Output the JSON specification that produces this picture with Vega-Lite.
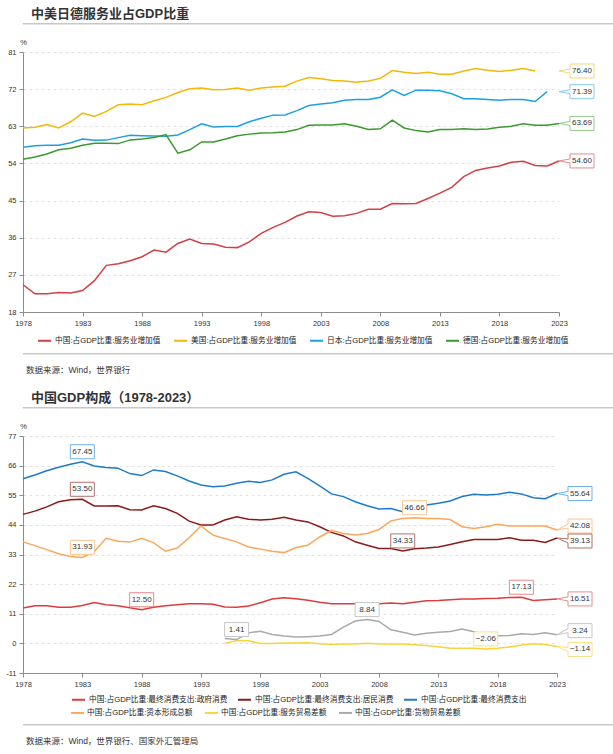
{
  "$schema": "https://vega.github.io/schema/vega-lite/v6.json",
  "padding": {"left": 5, "top": 8, "right": 5, "bottom": 2},
  "background": "white",
  "config": {
    "font": "Liberation Sans, Noto Sans CJK SC",
    "view": {"stroke": null},
    "axis": {
      "labelFontSize": 7.5,
      "labelColor": "#333",
      "domainColor": "#8c8c8c",
      "tickColor": "#8c8c8c",
      "tickSize": 4,
      "labelPadding": 3,
      "labelFlush": false,
      "gridColor": "#e2e2e2",
      "gridDash": [3, 3],
      "titleFontSize": 7.5,
      "titleFontWeight": "normal",
      "titleColor": "#333"
    },
    "axisX": {"grid": false},
    "legend": {
      "labelFontSize": 7.7,
      "labelColor": "#222",
      "symbolType": "stroke",
      "symbolStrokeWidth": 2,
      "symbolSize": 169,
      "labelOffset": 3,
      "labelLimit": 300
    },
    "title": {"anchor": "start", "color": "#333"}
  },
  "datasets": {
    "svc": [
      {"year": 1978, "中国": 24.6, "美国": 62.6, "日本": 57.9, "德国": 55.0},
      {"year": 1979, "中国": 22.4, "美国": 62.75, "日本": 58.3, "德国": 55.55},
      {"year": 1980, "中国": 22.4, "美国": 63.4, "日本": 58.4, "德国": 56.3},
      {"year": 1981, "中国": 22.7, "美国": 62.6, "日本": 58.4, "德国": 57.3},
      {"year": 1982, "中国": 22.6, "美国": 64.1, "日本": 59.0, "德国": 57.7},
      {"year": 1983, "中国": 23.2, "美国": 66.2, "日本": 59.9, "德国": 58.4},
      {"year": 1984, "中国": 25.6, "美国": 65.4, "日本": 59.6, "德国": 58.9},
      {"year": 1985, "中国": 29.3, "美国": 66.6, "日本": 59.65, "德国": 58.9},
      {"year": 1986, "中国": 29.7, "美国": 68.2, "日本": 60.25, "德国": 58.8},
      {"year": 1987, "中国": 30.4, "美国": 68.4, "日本": 60.8, "德国": 59.7},
      {"year": 1988, "中国": 31.4, "美国": 68.2, "日本": 60.7, "德国": 59.9},
      {"year": 1989, "中国": 33.0, "美国": 69.2, "日本": 60.65, "德国": 60.3},
      {"year": 1990, "中国": 32.5, "美国": 70.0, "日本": 60.6, "德国": 61.0},
      {"year": 1991, "中国": 34.6, "美国": 71.2, "日本": 60.9, "德国": 56.5},
      {"year": 1992, "中国": 35.65, "美国": 72.1, "日本": 62.2, "德国": 57.3},
      {"year": 1993, "中国": 34.6, "美国": 72.3, "日本": 63.6, "德国": 59.2},
      {"year": 1994, "中国": 34.45, "美国": 71.85, "日本": 62.85, "德国": 59.2},
      {"year": 1995, "中国": 33.7, "美国": 71.9, "日本": 62.95, "德国": 59.9},
      {"year": 1996, "中国": 33.6, "美国": 72.25, "日本": 62.95, "德国": 60.7},
      {"year": 1997, "中国": 35.0, "美国": 71.75, "日本": 64.1, "德国": 61.1},
      {"year": 1998, "中国": 37.05, "美国": 72.3, "日本": 64.95, "德国": 61.4},
      {"year": 1999, "中国": 38.5, "美国": 72.5, "日本": 65.7, "德国": 61.45},
      {"year": 2000, "中国": 39.7, "美国": 72.7, "日本": 65.75, "德国": 61.6},
      {"year": 2001, "中国": 41.25, "美国": 73.95, "日本": 66.8, "德国": 62.2},
      {"year": 2002, "中国": 42.3, "美国": 74.8, "日本": 68.05, "德国": 63.25},
      {"year": 2003, "中国": 42.1, "美国": 74.5, "日本": 68.4, "德国": 63.3},
      {"year": 2004, "中国": 41.2, "美国": 74.1, "日本": 68.7, "德国": 63.3},
      {"year": 2005, "中国": 41.3, "美国": 73.95, "日本": 69.3, "德国": 63.6},
      {"year": 2006, "中国": 41.9, "美国": 73.7, "日本": 69.5, "德国": 63.0},
      {"year": 2007, "中国": 42.9, "美国": 73.95, "日本": 69.5, "德国": 62.2},
      {"year": 2008, "中国": 42.9, "美国": 74.6, "日本": 70.05, "德国": 62.4},
      {"year": 2009, "中国": 44.3, "美国": 76.5, "日本": 71.85, "德国": 64.5},
      {"year": 2010, "中国": 44.2, "美国": 76.1, "日本": 70.5, "德国": 62.6},
      {"year": 2011, "中国": 44.3, "美国": 75.8, "日本": 71.75, "德国": 61.95},
      {"year": 2012, "中国": 45.5, "美国": 76.1, "日本": 71.75, "德国": 61.6},
      {"year": 2013, "中国": 46.8, "美国": 75.6, "日本": 71.6, "德国": 62.2},
      {"year": 2014, "中国": 48.2, "美国": 75.6, "日本": 70.9, "德国": 62.2},
      {"year": 2015, "中国": 50.8, "美国": 76.4, "日本": 69.7, "德国": 62.4},
      {"year": 2016, "中国": 52.3, "美国": 77.0, "日本": 69.7, "德国": 62.2},
      {"year": 2017, "中国": 52.9, "美国": 76.6, "日本": 69.5, "德国": 62.35},
      {"year": 2018, "中国": 53.4, "美国": 76.3, "日本": 69.3, "德国": 62.75},
      {"year": 2019, "中国": 54.3, "美国": 76.6, "日本": 69.5, "德国": 63.0},
      {"year": 2020, "中国": 54.5, "美国": 77.0, "日本": 69.5, "德国": 63.6},
      {"year": 2021, "中国": 53.5, "美国": 76.4, "日本": 69.0, "德国": 63.25},
      {"year": 2022, "中国": 53.4, "美国": null, "日本": 71.39, "德国": 63.25},
      {"year": 2023, "中国": 54.6, "美国": null, "日本": null, "德国": 63.69}
    ],
    "ends1": [
      {"series": "美国", "year": 2023, "v": 76.40},
      {"series": "日本", "year": 2023, "v": 71.39},
      {"series": "德国", "year": 2023, "v": 63.69},
      {"series": "中国", "year": 2023, "v": 54.60}
    ],
    "gdp": [
      {"year": 1978, "政府消费": 13.1, "居民消费": 47.9, "最终消费支出": 61.1, "资本形成总额": 37.7, "服务贸易差额": null, "货物贸易差额": null},
      {"year": 1979, "政府消费": 14.0, "居民消费": 49.1, "最终消费支出": 62.5, "资本形成总额": 36.3, "服务贸易差额": null, "货物贸易差额": null},
      {"year": 1980, "政府消费": 14.0, "居民消费": 50.7, "最终消费支出": 64.1, "资本形成总额": 34.8, "服务贸易差额": null, "货物贸易差额": null},
      {"year": 1981, "政府消费": 13.4, "居民消费": 52.6, "最终消费支出": 65.4, "资本形成总额": 33.3, "服务贸易差额": null, "货物贸易差额": null},
      {"year": 1982, "政府消费": 13.4, "居民消费": 53.3, "最终消费支出": 66.5, "资本形成总额": 32.3, "服务贸易差额": null, "货物贸易差额": null},
      {"year": 1983, "政府消费": 14.1, "居民消费": 53.5, "最终消费支出": 67.45, "资本形成总额": 31.93, "服务贸易差额": null, "货物贸易差额": null},
      {"year": 1984, "政府消费": 15.2, "居民消费": 51.0, "最终消费支出": 65.9, "资本形成总额": 34.0, "服务贸易差额": null, "货物贸易差额": null},
      {"year": 1985, "政府消费": 14.35, "居民消费": 51.0, "最终消费支出": 65.3, "资本形成总额": 39.0, "服务贸易差额": null, "货物贸易差额": null},
      {"year": 1986, "政府消费": 14.0, "居民消费": 51.1, "最终消费支出": 65.05, "资本形成总额": 37.9, "服务贸易差额": null, "货物贸易差额": null},
      {"year": 1987, "政府消费": 13.2, "居民消费": 49.6, "最终消费支出": 63.05, "资本形成总额": 37.6, "服务贸易差额": null, "货物贸易差额": null},
      {"year": 1988, "政府消费": 12.5, "居民消费": 49.55, "最终消费支出": 62.3, "资本形成总额": 39.0, "服务贸易差额": null, "货物贸易差额": null},
      {"year": 1989, "政府消费": 13.4, "居民消费": 51.1, "最终消费支出": 64.4, "资本形成总额": 37.4, "服务贸易差额": null, "货物贸易差额": null},
      {"year": 1990, "政府消费": 14.0, "居民消费": 50.1, "最终消费支出": 63.8, "资本形成总额": 34.2, "服务贸易差额": null, "货物贸易差额": null},
      {"year": 1991, "政府消费": 14.35, "居民消费": 48.3, "最终消费支出": 62.2, "资本形成总额": 35.4, "服务贸易差额": null, "货物贸易差额": null},
      {"year": 1992, "政府消费": 14.7, "居民消费": 45.4, "最终消费支出": 60.3, "资本形成总额": 39.2, "服务贸易差额": null, "货物贸易差额": null},
      {"year": 1993, "政府消费": 14.7, "居民消费": 44.0, "最终消费支出": 58.8, "资本形成总额": 43.6, "服务贸易差额": null, "货物贸易差额": null},
      {"year": 1994, "政府消费": 14.5, "居民消费": 44.0, "最终消费支出": 58.2, "资本形成总额": 40.2, "服务贸易差额": null, "货物贸易差额": null},
      {"year": 1995, "政府消费": 13.5, "居民消费": 45.8, "最终消费支出": 58.45, "资本形成总额": 38.95, "服务贸易差额": 0.0, "货物贸易差额": 1.8},
      {"year": 1996, "政府消费": 13.4, "居民消费": 47.0, "最终消费支出": 59.45, "资本形成总额": 37.7, "服务贸易差额": 1.0, "货物贸易差额": 1.41},
      {"year": 1997, "政府消费": 13.85, "居民消费": 46.1, "最终消费支出": 60.2, "资本形成总额": 35.8, "服务贸易差额": 1.0, "货物贸易差额": 3.9},
      {"year": 1998, "政府消费": 15.1, "居民消费": 45.8, "最终消费支出": 59.7, "资本形成总额": 35.0, "服务贸易差额": 0.0, "货物贸易差额": 4.5},
      {"year": 1999, "政府消费": 16.45, "居民消费": 46.1, "最终消费支出": 60.7, "资本形成总额": 34.2, "服务贸易差额": 0.0, "货物贸易差额": 3.3},
      {"year": 2000, "政府消费": 16.95, "居民消费": 46.8, "最终消费支出": 62.8, "资本形成总额": 33.7, "服务贸易差额": 0.1, "货物贸易差额": 2.7},
      {"year": 2001, "政府消费": 16.6, "居民消费": 45.8, "最终消费支出": 63.7, "资本形成总额": 35.6, "服务贸易差额": 0.1, "货物贸易差额": 2.35},
      {"year": 2002, "政府消费": 16.0, "居民消费": 45.1, "最终消费支出": 61.3, "资本形成总额": 36.4, "服务贸易差额": 0.2, "货物贸易差额": 2.5},
      {"year": 2003, "政府消费": 15.3, "居民消费": 43.3, "最终消费支出": 58.45, "资本形成总额": 39.5, "服务贸易差额": -0.1, "货物贸易差额": 2.7},
      {"year": 2004, "政府消费": 14.7, "居民消费": 41.2, "最终消费支出": 55.5, "资本形成总额": 42.0, "服务贸易差额": -0.4, "货物贸易差额": 3.3},
      {"year": 2005, "政府消费": 14.7, "居民消费": 39.9, "最终消费支出": 54.5, "资本形成总额": 40.8, "服务贸易差额": -0.2, "货物贸易差额": 6.05},
      {"year": 2006, "政府消费": 14.7, "居民消费": 37.7, "最终消费支出": 52.6, "资本形成总额": 40.2, "服务贸易差额": -0.2, "货物贸易差额": 8.3},
      {"year": 2007, "政府消费": 14.5, "居民消费": 36.4, "最终消费支出": 51.1, "资本形成总额": 40.8, "服务贸易差额": 0.0, "货物贸易差额": 8.84},
      {"year": 2008, "政府消费": 14.7, "居民消费": 35.2, "最终消费支出": 49.9, "资本形成总额": 42.3, "服务贸易差额": -0.2, "货物贸易差额": 8.15},
      {"year": 2009, "政府消费": 14.95, "居民消费": 35.2, "最终消费支出": 50.1, "资本形成总额": 45.5, "服务贸易差额": -0.25, "货物贸易差额": 5.05},
      {"year": 2010, "政府消费": 14.7, "居民消费": 34.33, "最终消费支出": 48.9, "资本形成总额": 46.4, "服务贸易差额": -0.25, "货物贸易差额": 4.1},
      {"year": 2011, "政府消费": 15.3, "居民消费": 35.1, "最终消费支出": 49.5, "资本形成总额": 46.66, "服务贸易差额": -0.5, "货物贸易差额": 3.1},
      {"year": 2012, "政府消费": 15.8, "居民消费": 35.4, "最终消费支出": 51.4, "资本形成总额": 46.4, "服务贸易差额": -0.75, "货物贸易差额": 3.8},
      {"year": 2013, "政府消费": 15.95, "居民消费": 35.8, "最终消费支出": 52.0, "资本形成总额": 46.4, "服务贸易差额": -1.25, "货物贸易差额": 4.1},
      {"year": 2014, "政府消费": 16.2, "居民消费": 36.7, "最终消费支出": 52.85, "资本形成总额": 46.0, "服务贸易差额": -1.85, "货物贸易差额": 4.45},
      {"year": 2015, "政府消费": 16.45, "居民消费": 37.7, "最终消费支出": 54.5, "资本形成总额": 43.3, "服务贸易差额": -1.85, "货物贸易差额": 5.3},
      {"year": 2016, "政府消费": 16.45, "居民消费": 38.6, "最终消费支出": 55.35, "资本形成总额": 42.7, "服务贸易差额": -1.85, "货物贸易差额": 4.3},
      {"year": 2017, "政府消费": 16.7, "居民消费": 38.6, "最终消费支出": 55.1, "资本形成总额": 43.3, "服务贸易差额": -2.06, "货物贸易差额": 3.2},
      {"year": 2018, "政府消费": 16.8, "居民消费": 38.6, "最终消费支出": 55.35, "资本形成总额": 44.2, "服务贸易差额": -1.85, "货物贸易差额": 2.85},
      {"year": 2019, "政府消费": 17.05, "居民消费": 39.2, "最终消费支出": 56.1, "资本形成总额": 43.6, "服务贸易差额": -1.35, "货物贸易差额": 2.95},
      {"year": 2020, "政府消费": 17.13, "居民消费": 38.3, "最终消费支出": 55.5, "资本形成总额": 43.6, "服务贸易差额": -0.6, "货物贸易差额": 3.6},
      {"year": 2021, "政府消费": 15.95, "居民消费": 38.3, "最终消费支出": 54.1, "资本形成总额": 43.6, "服务贸易差额": -0.1, "货物贸易差额": 3.3},
      {"year": 2022, "政府消费": 16.2, "居民消费": 37.45, "最终消费支出": 53.7, "资本形成总额": 43.6, "服务贸易差额": -0.4, "货物贸易差额": 3.95},
      {"year": 2023, "政府消费": 16.51, "居民消费": 39.13, "最终消费支出": 55.64, "资本形成总额": 42.08, "服务贸易差额": -1.14, "货物贸易差额": 3.24}
    ],
    "ends2": [
      {"series": "最终消费支出", "year": 2023, "v": 55.64},
      {"series": "资本形成总额", "year": 2023, "v": 42.08},
      {"series": "居民消费", "year": 2023, "v": 39.13},
      {"series": "政府消费", "year": 2023, "v": 16.51},
      {"series": "货物贸易差额", "year": 2023, "v": 3.24},
      {"series": "服务贸易差额", "year": 2023, "v": -1.14}
    ],
    "ext2": [
      {"series": "最终消费支出", "year": 1983, "v": 67.45},
      {"series": "居民消费", "year": 1983, "v": 53.50},
      {"series": "资本形成总额", "year": 1983, "v": 31.93},
      {"series": "政府消费", "year": 1988, "v": 12.50},
      {"series": "资本形成总额", "year": 2011, "v": 46.66},
      {"series": "居民消费", "year": 2010, "v": 34.33},
      {"series": "政府消费", "year": 2020, "v": 17.13},
      {"series": "货物贸易差额", "year": 2007, "v": 8.84},
      {"series": "服务贸易差额", "year": 2017, "v": -2.06},
      {"series": "货物贸易差额", "year": 1996, "v": 1.41}
    ]
  },
  "columns": 1,
  "align": "none",
  "spacing": 18,
  "resolve": {
    "scale": {"color": "independent", "stroke": "independent", "fill": "independent", "x": "independent", "y": "independent"},
    "legend": {"color": "independent", "fill": "independent"}
  },
  "concat": [
    {
      "columns": 1,
      "align": "none",
      "spacing": 26,
      "concat": [
        {
          "columns": 1,
          "align": "none",
          "spacing": 13,
          "concat": [
            {
              "title": {"text": "中美日德服务业占GDP比重", "fontSize": 13, "fontWeight": "bold", "dx": 8, "offset": 2},
              "width": 595,
              "height": 1.5,
              "view": {"fill": "#c8c8c8"},
              "data": {"values": []},
              "mark": "point",
              "encoding": {}
            },
            {
              "width": 536,
              "height": 260,
              "encoding": {
                "x": {
                  "field": "year",
                  "type": "quantitative",
                  "scale": {"domain": [1978, 2023], "nice": false, "zero": false},
                  "axis": {"values": [1978, 1983, 1988, 1993, 1998, 2003, 2008, 2013, 2018, 2023], "format": "d", "title": null}
                },
                "y": {
                  "field": "v",
                  "type": "quantitative",
                  "scale": {"domain": [18, 81], "nice": false, "zero": false},
                  "axis": {
                    "values": [18, 27, 36, 45, 54, 63, 72, 81],
                    "title": "%",
                    "titleAngle": 0,
                    "titleAlign": "center",
                    "titleBaseline": "alphabetic",
                    "titleX": 0,
                    "titleY": -8
                  }
                }
              },
              "layer": [
                {
                  "data": {"name": "svc"},
                  "transform": [{"fold": ["中国", "美国", "日本", "德国"], "as": ["series", "v"]}],
                  "mark": {"type": "line", "strokeWidth": 1.5},
                  "encoding": {
                    "color": {
                      "field": "series",
                      "type": "nominal",
                      "scale": {"domain": ["中国", "美国", "日本", "德国"], "range": ["#d23f45", "#f3b80a", "#1ea0e0", "#3b9a2d"]},
                      "legend": {
                        "orient": "none",
                        "legendX": 14,
                        "legendY": 310,
                        "direction": "horizontal",
                        "columns": 4,
                        "columnPadding": 9,
                        "title": null,
                        "labelExpr": "datum.label + ':占GDP比重:服务业增加值'"
                      }
                    }
                  }
                },
                {
                  "data": {"name": "ends1"},
                  "mark": {"type": "point", "shape": "M0,0L11,-2L11,-7L35,-7L35,7L11,7L11,2Z", "size": 4, "filled": true, "fill": "white", "strokeWidth": 1, "opacity": 1},
                  "encoding": {
                    "stroke": {
                      "field": "series",
                      "type": "nominal",
                      "scale": {"domain": ["中国", "美国", "日本", "德国"], "range": ["#e48b8f", "#f7d67a", "#86cbef", "#95c98c"]},
                      "legend": null
                    }
                  }
                },
                {
                  "data": {"name": "ends1"},
                  "mark": {"type": "text", "dx": 23, "fontSize": 8, "color": "#333", "align": "center", "baseline": "middle"},
                  "encoding": {"text": {"field": "v", "type": "quantitative", "format": ".2f"}}
                }
              ]
            }
          ]
        },
        {
          "title": {"text": "数据来源：Wind，世界银行", "orient": "bottom", "fontSize": 8.5, "fontWeight": "normal", "offset": 11, "dx": 3},
          "width": 595,
          "height": 1.5,
          "view": {"fill": "#c8c8c8"},
          "data": {"values": []},
          "mark": "point",
          "encoding": {}
        }
      ]
    },
    {
      "columns": 1,
      "align": "none",
      "spacing": 36,
      "concat": [
        {
          "columns": 1,
          "align": "none",
          "spacing": 13,
          "concat": [
            {
              "title": {"text": "中国GDP构成（1978-2023）", "fontSize": 13, "fontWeight": "bold", "dx": 8, "offset": 2},
              "width": 595,
              "height": 1.5,
              "view": {"fill": "#c8c8c8"},
              "data": {"values": []},
              "mark": "point",
              "encoding": {}
            },
            {
              "width": 534,
              "height": 237,
              "encoding": {
                "x": {
                  "field": "year",
                  "type": "quantitative",
                  "scale": {"domain": [1978, 2023], "nice": false, "zero": false},
                  "axis": {"values": [1978, 1983, 1988, 1993, 1998, 2003, 2008, 2013, 2018, 2023], "format": "d", "title": null}
                },
                "y": {
                  "field": "v",
                  "type": "quantitative",
                  "scale": {"domain": [-11, 77], "nice": false, "zero": false},
                  "axis": {
                    "values": [-11, 0, 11, 22, 33, 44, 55, 66, 77],
                    "labelExpr": "replace(datum.label, '−', '-')",
                    "title": "%",
                    "titleAngle": 0,
                    "titleAlign": "center",
                    "titleBaseline": "alphabetic",
                    "titleX": 0,
                    "titleY": -8
                  }
                }
              },
              "layer": [
                {
                  "data": {"name": "gdp"},
                  "transform": [{"fold": ["政府消费", "居民消费", "最终消费支出", "资本形成总额", "服务贸易差额", "货物贸易差额"], "as": ["series", "v"]}],
                  "mark": {"type": "line", "strokeWidth": 1.5},
                  "encoding": {
                    "color": {
                      "field": "series",
                      "type": "nominal",
                      "scale": {
                        "domain": ["政府消费", "居民消费", "最终消费支出", "资本形成总额", "服务贸易差额", "货物贸易差额"],
                        "range": ["#dc3c3c", "#8c1a16", "#1f7acc", "#faa75b", "#f8d33c", "#a9a9a9"]
                      },
                      "legend": {
                        "orient": "none",
                        "legendX": 48,
                        "legendY": 285,
                        "direction": "horizontal",
                        "columns": 3,
                        "columnPadding": 6,
                        "title": null,
                        "values": ["政府消费", "居民消费", "最终消费支出"],
                        "labelExpr": "(datum.label == '最终消费支出' ? '中国:占GDP比重:' : '中国:占GDP比重:最终消费支出:') + datum.label"
                      }
                    }
                  }
                },
                {
                  "data": {"values": []},
                  "mark": {"type": "point", "filled": true},
                  "encoding": {
                    "fill": {
                      "field": "series",
                      "type": "nominal",
                      "scale": {
                        "domain": ["资本形成总额", "服务贸易差额", "货物贸易差额"],
                        "range": ["#faa75b", "#f8d33c", "#a9a9a9"]
                      },
                      "legend": {
                        "orient": "none",
                        "legendX": 48,
                        "legendY": 299,
                        "direction": "horizontal",
                        "columns": 3,
                        "columnPadding": 12,
                        "title": null,
                        "symbolType": "M-1,-0.15L1,-0.15L1,0.15L-1,0.15Z",
                        "symbolSize": 169,
                        "symbolStrokeWidth": 0,
                        "symbolOpacity": 1,
                        "labelExpr": "'中国:占GDP比重:' + datum.label"
                      }
                    }
                  }
                },
                {
                  "data": {"name": "ext2"},
                  "mark": {"type": "point", "shape": "M-12,-17L12,-17L12,-3L-12,-3Z", "size": 4, "filled": true, "fill": "white", "strokeWidth": 1, "opacity": 1},
                  "encoding": {
                    "stroke": {
                      "field": "series",
                      "type": "nominal",
                      "scale": {
                        "domain": ["政府消费", "居民消费", "最终消费支出", "资本形成总额", "服务贸易差额", "货物贸易差额"],
                        "range": ["#e98a8a", "#b56f6c", "#6fb0e8", "#fbc58e", "#f9e08a", "#c6c6c6"]
                      },
                      "legend": null
                    }
                  }
                },
                {
                  "data": {"name": "ext2"},
                  "mark": {"type": "text", "dy": -10, "fontSize": 8, "color": "#333", "align": "center", "baseline": "middle"},
                  "encoding": {"text": {"field": "v", "type": "quantitative", "format": ".2f"}}
                },
                {
                  "data": {"name": "ends2"},
                  "transform": [{"filter": {"field": "series", "oneOf": ["最终消费支出", "政府消费"]}}],
                  "mark": {"type": "point", "shape": "M0,0L11,-2L11,-7L35,-7L35,7L11,7L11,2Z", "size": 4, "filled": true, "fill": "white", "strokeWidth": 1, "opacity": 1},
                  "encoding": {"stroke": {"field": "series", "type": "nominal", "legend": null}}
                },
                {
                  "data": {"name": "ends2"},
                  "transform": [{"filter": {"field": "series", "oneOf": ["资本形成总额", "货物贸易差额"]}}],
                  "mark": {"type": "point", "shape": "M0,0L11,-6L11,-11L35,-11L35,3L11,3L11,-2Z", "size": 4, "filled": true, "fill": "white", "strokeWidth": 1, "opacity": 1},
                  "encoding": {"stroke": {"field": "series", "type": "nominal", "legend": null}}
                },
                {
                  "data": {"name": "ends2"},
                  "transform": [{"filter": {"field": "series", "oneOf": ["居民消费", "服务贸易差额"]}}],
                  "mark": {"type": "point", "shape": "M0,0L11,1L11,-4L35,-4L35,10L11,10L11,5Z", "size": 4, "filled": true, "fill": "white", "strokeWidth": 1, "opacity": 1},
                  "encoding": {"stroke": {"field": "series", "type": "nominal", "legend": null}}
                },
                {
                  "data": {"name": "ends2"},
                  "transform": [{"filter": {"field": "series", "oneOf": ["最终消费支出", "政府消费"]}}],
                  "mark": {"type": "text", "dx": 23, "fontSize": 8, "color": "#333", "align": "center", "baseline": "middle"},
                  "encoding": {"text": {"field": "v", "type": "quantitative", "format": ".2f"}}
                },
                {
                  "data": {"name": "ends2"},
                  "transform": [{"filter": {"field": "series", "oneOf": ["资本形成总额", "货物贸易差额"]}}],
                  "mark": {"type": "text", "dx": 23, "dy": -4, "fontSize": 8, "color": "#333", "align": "center", "baseline": "middle"},
                  "encoding": {"text": {"field": "v", "type": "quantitative", "format": ".2f"}}
                },
                {
                  "data": {"name": "ends2"},
                  "transform": [{"filter": {"field": "series", "oneOf": ["居民消费", "服务贸易差额"]}}],
                  "mark": {"type": "text", "dx": 23, "dy": 3, "fontSize": 8, "color": "#333", "align": "center", "baseline": "middle"},
                  "encoding": {"text": {"field": "v", "type": "quantitative", "format": ".2f"}}
                }
              ]
            }
          ]
        },
        {
          "title": {"text": "数据来源：Wind，世界银行、国家外汇管理局", "orient": "bottom", "fontSize": 8.5, "fontWeight": "normal", "offset": 11, "dx": 3},
          "width": 595,
          "height": 1.5,
          "view": {"fill": "#c8c8c8"},
          "data": {"values": []},
          "mark": "point",
          "encoding": {}
        }
      ]
    }
  ]
}
